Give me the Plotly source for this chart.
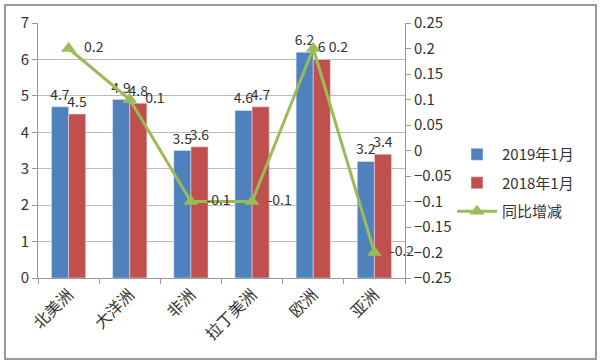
import plotly.graph_objects as go

categories = ["北美洲", "大洋洲", "非洲", "拉丁美洲", "欧洲", "亚洲"]
v2019 = [4.7, 4.9, 3.5, 4.6, 6.2, 3.2]
v2018 = [4.5, 4.8, 3.6, 4.7, 6.0, 3.4]
yoy = [0.2, 0.1, -0.1, -0.1, 0.2, -0.2]

FONT = "Noto Sans CJK SC, Liberation Sans, sans-serif"
W, H = 600, 364
L, R, T, B = 38, 195, 23, 86
pw, ph = W - L - R, H - T - B

fig = go.Figure()
fig.add_trace(go.Bar(x=categories, y=v2019, name="2019年1月", marker_color="#4F81BD",
                     legendgroup="a", constraintext="none",
                     text=[f"{v:g}" for v in v2019], textposition="outside",
                     textfont=dict(size=14, color="#333"), cliponaxis=False))
fig.add_trace(go.Bar(x=categories, y=v2018, name="2018年1月", marker_color="#C0504D",
                     legendgroup="b", constraintext="none",
                     text=[f"{v:g}" for v in v2018], textposition="outside",
                     textfont=dict(size=14, color="#333"), cliponaxis=False))
fig.add_trace(go.Scatter(x=categories, y=yoy, name="同比增减", yaxis="y2",
                         legendgroup="c",
                         mode="lines+markers+text",
                         line=dict(color="#9BBB59", width=3),
                         marker=dict(symbol="triangle-up", size=13, color="#9BBB59"),
                         text=["  " + f"{v:g}" for v in yoy], textposition="middle right",
                         textfont=dict(size=14, color="#333"), cliponaxis=False))

fig.update_layout(
    width=W, height=H, margin=dict(l=L, r=R, t=T, b=B),
    paper_bgcolor="white", plot_bgcolor="white",
    font=dict(family=FONT, size=14, color="#333"),
    bargap=0.44, bargroupgap=0,
    xaxis=dict(type="category", tickangle=-45, showline=True, linecolor="#999",
               ticks="outside", tickson="boundaries", tickcolor="#999", ticklen=5,
               tickfont=dict(size=16)),
    yaxis=dict(range=[0, 7], dtick=1, showgrid=True, gridcolor="#BBBBBB",
               showline=True, linecolor="#999", ticks="outside", tickcolor="#999",
               ticklen=5, zeroline=False, tickfont=dict(size=15)),
    yaxis2=dict(range=[-0.25, 0.25], dtick=0.05, overlaying="y", side="right",
                showgrid=False, showline=True, linecolor="#999", ticks="outside",
                tickcolor="#999", ticklen=5, zeroline=False, tickfont=dict(size=15),
                tickformat="~g"),
    legend=dict(x=(452 - L) / pw, y=(364 - 138 - B) / ph, xanchor="left", yanchor="top",
                font=dict(size=15), tracegroupgap=6, itemwidth=40),
    shapes=[dict(type="rect", xref="paper", yref="paper",
                 x0=(5 - L) / pw, x1=(596 - L) / pw,
                 y0=(H - 359 - B) / ph, y1=(H - 5 - B) / ph,
                 line=dict(color="#999", width=2), layer="above")],
)

fig.write_html("out.html", config={"displayModeBar": False},
               post_script="document.body.style.margin='0';")
